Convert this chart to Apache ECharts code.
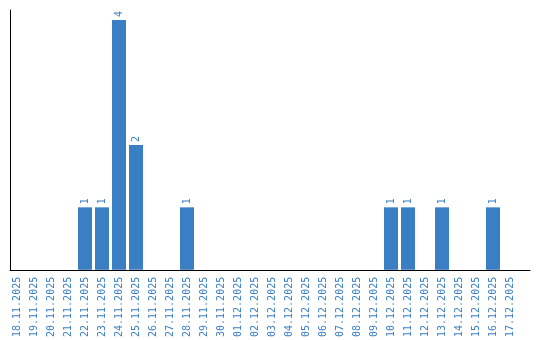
<!DOCTYPE html>
<html><head><meta charset="utf-8">
<script src="https://cdn.jsdelivr.net/npm/echarts@6/dist/echarts.min.js"></script>
<style>html,body{margin:0;padding:0;background:#fff}#c{width:540px;height:340px}</style>
</head><body><div id="c"></div>
<script>
const categories = ['18.11.2025','19.11.2025','20.11.2025','21.11.2025','22.11.2025','23.11.2025','24.11.2025','25.11.2025','26.11.2025','27.11.2025','28.11.2025','29.11.2025','30.11.2025','01.12.2025','02.12.2025','03.12.2025','04.12.2025','05.12.2025','06.12.2025','07.12.2025','08.12.2025','09.12.2025','10.12.2025','11.12.2025','12.12.2025','13.12.2025','14.12.2025','15.12.2025','16.12.2025','17.12.2025'];
const counts = [null,null,null,null,1,1,4,2,null,null,1,null,null,null,null,null,null,null,null,null,null,null,1,1,null,1,null,null,1,null];
const blue = '#3a7ec3';
const chart = echarts.init(document.getElementById('c'));
chart.setOption({
  animation: false,
  grid: [
    {left: 8.5, width: 510, top: 20, height: 250},
    {left: 10, right: 10, top: 10, height: 260}
  ],
  xAxis: [
    {gridIndex: 0, type: 'category', data: categories,
     axisLine: {show: false}, axisTick: {show: false},
     axisLabel: {rotate: 90, interval: 0, margin: 7, color: blue, fontFamily: 'DejaVu Sans Mono', fontSize: 10}},
    {gridIndex: 1, type: 'value', min: 0, max: 1,
     axisLine: {show: true, lineStyle: {color: '#000', width: 1}}, axisTick: {show: false},
     axisLabel: {show: false}, splitLine: {show: false}}
  ],
  yAxis: [
    {gridIndex: 0, type: 'value', min: 0, max: 4, axisLine: {show: false}, axisTick: {show: false},
     axisLabel: {show: false}, splitLine: {show: false}},
    {gridIndex: 1, type: 'value', min: 0, max: 1,
     axisLine: {show: true, lineStyle: {color: '#000', width: 1}}, axisTick: {show: false},
     axisLabel: {show: false}, splitLine: {show: false}}
  ],
  series: [{
    type: 'bar', xAxisIndex: 0, yAxisIndex: 0, data: counts, barWidth: 14,
    itemStyle: {color: blue},
    label: {show: true, position: 'top', rotate: 90, align: 'left', verticalAlign: 'middle', distance: 3,
      color: blue, fontFamily: 'DejaVu Sans Mono', fontSize: 10}
  }]
});
</script></body></html>
